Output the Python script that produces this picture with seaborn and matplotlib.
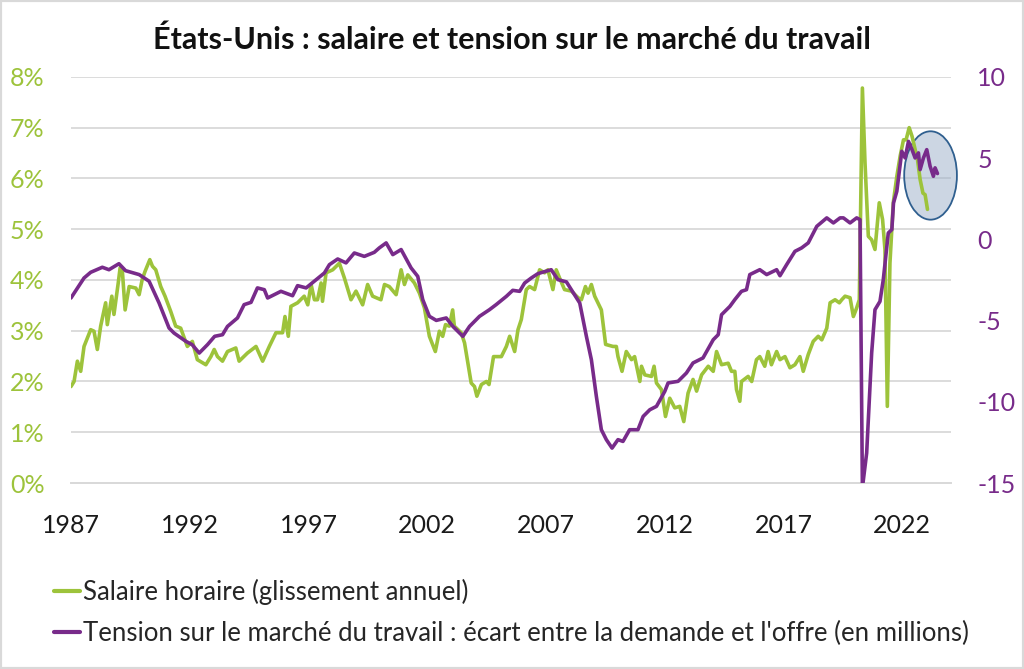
import matplotlib
matplotlib.use("Agg")
import matplotlib.pyplot as plt
from matplotlib.patches import Ellipse, Rectangle
from matplotlib.ticker import FuncFormatter
import seaborn as sns

# salaire horaire, glissement annuel (%)
wage_years = [
    1987.00, 1987.13, 1987.27, 1987.41, 1987.55, 1987.83, 1987.97, 1988.11, 1988.25, 1988.46,
    1988.53, 1988.72, 1988.81, 1988.99, 1989.07, 1989.16, 1989.28, 1989.45, 1989.73, 1989.87,
    1990.00, 1990.12, 1990.32, 1990.43, 1990.57, 1990.78, 1990.96, 1991.20, 1991.41, 1991.62,
    1991.90, 1992.11, 1992.32, 1992.68, 1992.89, 1993.03, 1993.17, 1993.38, 1993.59, 1993.94,
    1994.08, 1994.43, 1994.79, 1995.07, 1995.35, 1995.63, 1995.91, 1996.01, 1996.15, 1996.26,
    1996.54, 1996.82, 1996.97, 1997.11, 1997.25, 1997.38, 1997.53, 1997.59, 1997.74, 1998.02,
    1998.30, 1998.51, 1998.79, 1999.00, 1999.28, 1999.49, 1999.70, 2000.05, 2000.20, 2000.40,
    2000.69, 2000.90, 2001.04, 2001.18, 2001.46, 2001.67, 2001.88, 2002.09, 2002.34, 2002.51,
    2002.65, 2002.77, 2002.93, 2003.07, 2003.14, 2003.43, 2003.57, 2003.71, 2003.85, 2003.99,
    2004.09, 2004.28, 2004.49, 2004.60, 2004.79, 2005.12, 2005.33, 2005.47, 2005.68, 2005.82,
    2005.96, 2006.17, 2006.31, 2006.52, 2006.73, 2006.94, 2007.08, 2007.29, 2007.43, 2007.57,
    2007.78, 2008.07, 2008.35, 2008.49, 2008.66, 2008.77, 2008.91, 2009.05, 2009.33, 2009.51,
    2009.82, 2009.96, 2010.03, 2010.20, 2010.38, 2010.60, 2010.73, 2010.95, 2011.02, 2011.16,
    2011.44, 2011.55, 2011.65, 2011.86, 2012.03, 2012.21, 2012.42, 2012.63, 2012.80, 2012.98,
    2013.19, 2013.34, 2013.55, 2013.83, 2014.04, 2014.18, 2014.39, 2014.67, 2014.81, 2014.95,
    2015.02, 2015.16, 2015.23, 2015.51, 2015.66, 2015.86, 2016.00, 2016.21, 2016.35, 2016.49,
    2016.71, 2016.85, 2017.06, 2017.27, 2017.48, 2017.69, 2017.83, 2018.04, 2018.25, 2018.46,
    2018.61, 2018.82, 2018.96, 2019.17, 2019.35, 2019.45, 2019.59, 2019.80, 2019.94, 2020.08,
    2020.19, 2020.32, 2020.43, 2020.57, 2020.71, 2020.85, 2021.03, 2021.17, 2021.27, 2021.37,
    2021.48, 2021.62, 2021.77, 2021.91, 2022.05, 2022.16, 2022.29, 2022.41, 2022.54, 2022.64,
    2022.75, 2022.87, 2022.96, 2023.06,
]
wage_values = [
    1.90, 2.00, 2.40, 2.20, 2.69, 3.02, 2.99, 2.63, 3.09, 3.55,
    3.12, 3.68, 3.32, 3.94, 4.24, 4.20, 3.41, 3.87, 3.84, 3.71,
    4.01, 4.17, 4.40, 4.27, 4.20, 3.87, 3.68, 3.38, 3.09, 3.05,
    2.69, 2.79, 2.43, 2.33, 2.49, 2.63, 2.49, 2.40, 2.59, 2.66,
    2.40, 2.56, 2.69, 2.40, 2.69, 2.96, 2.96, 3.28, 2.89, 3.48,
    3.55, 3.68, 3.51, 3.91, 3.61, 3.61, 3.94, 3.58, 4.14, 4.20,
    4.33, 4.04, 3.61, 3.78, 3.51, 3.91, 3.68, 3.61, 3.91, 3.87,
    3.71, 4.20, 3.91, 4.10, 3.94, 3.74, 3.45, 2.89, 2.59, 2.99,
    2.89, 3.12, 3.09, 3.41, 3.09, 2.96, 2.76, 2.36, 1.97, 1.90,
    1.71, 1.94, 2.00, 1.94, 2.49, 2.49, 2.69, 2.89, 2.59, 3.02,
    3.22, 3.81, 3.87, 3.81, 4.20, 4.14, 4.20, 3.81, 4.20, 4.04,
    3.81, 3.78, 3.65, 3.61, 3.87, 3.74, 3.91, 3.68, 3.41, 2.73,
    2.69, 2.69, 2.49, 2.20, 2.59, 2.43, 2.49, 2.00, 2.30, 2.13,
    2.10, 2.30, 1.97, 1.84, 1.31, 1.67, 1.48, 1.51, 1.21, 1.77,
    2.04, 1.81, 2.13, 2.30, 2.20, 2.59, 2.33, 2.36, 2.20, 2.20,
    1.84, 1.61, 2.00, 2.10, 2.00, 2.43, 2.49, 2.30, 2.59, 2.33,
    2.59, 2.43, 2.49, 2.27, 2.33, 2.49, 2.20, 2.53, 2.79, 2.89,
    2.82, 3.05, 3.55, 3.61, 3.55, 3.61, 3.68, 3.65, 3.28, 3.45,
    3.61, 7.78, 6.31, 4.86, 4.79, 4.60, 5.52, 5.19, 4.60, 1.51,
    4.33, 5.52, 6.04, 6.44, 6.76, 6.76, 7.00, 6.83, 6.57, 6.37,
    5.98, 5.71, 5.68, 5.39,
]

# tension : ecart demande - offre de travail (millions)
tension_years = [
    1987.00, 1987.55, 1987.83, 1988.32, 1988.60, 1989.02, 1989.30, 1989.87, 1990.29, 1990.71,
    1991.13, 1991.34, 1991.84, 1992.10, 1992.40, 1992.75, 1993.05, 1993.38, 1993.59, 1994.01,
    1994.29, 1994.58, 1994.85, 1995.14, 1995.28, 1995.84, 1996.33, 1996.54, 1996.90, 1997.24,
    1997.67, 1997.88, 1998.23, 1998.58, 1998.93, 1999.35, 1999.77, 1999.98, 2000.27, 2000.55,
    2000.90, 2001.32, 2001.60, 2001.81, 2002.09, 2002.38, 2002.80, 2003.08, 2003.50, 2003.78,
    2004.20, 2004.62, 2004.90, 2005.33, 2005.60, 2005.89, 2006.10, 2006.38, 2006.66, 2007.22,
    2007.50, 2007.86, 2008.20, 2008.42, 2008.70, 2008.91, 2009.12, 2009.33, 2009.54, 2009.78,
    2010.03, 2010.24, 2010.52, 2010.87, 2011.09, 2011.37, 2011.65, 2012.00, 2012.14, 2012.56,
    2012.91, 2013.19, 2013.61, 2014.04, 2014.25, 2014.39, 2014.74, 2014.95, 2015.23, 2015.44,
    2015.58, 2016.00, 2016.29, 2016.71, 2016.85, 2017.13, 2017.48, 2017.76, 2018.04, 2018.40,
    2018.82, 2019.10, 2019.38, 2019.52, 2019.80, 2020.08, 2020.22, 2020.32, 2020.50, 2020.71,
    2020.85, 2021.06, 2021.20, 2021.41, 2021.56, 2021.63, 2021.77, 2021.98, 2022.12, 2022.26,
    2022.41, 2022.54, 2022.68, 2022.75, 2022.89, 2023.03, 2023.17, 2023.31, 2023.38, 2023.48,
]
tension_values = [
    -3.61, -2.38, -2.03, -1.72, -1.87, -1.50, -1.93, -2.17, -2.58, -3.92,
    -5.46, -5.77, -6.28, -6.48, -7.00, -6.48, -5.97, -5.87, -5.36, -4.84,
    -4.02, -3.88, -2.99, -3.10, -3.61, -3.20, -3.47, -2.85, -2.99, -2.58,
    -2.07, -1.56, -1.21, -1.45, -0.84, -1.05, -0.80, -0.53, -0.22, -0.94,
    -0.63, -1.76, -2.28, -3.71, -4.74, -4.99, -4.84, -5.36, -5.97, -5.36,
    -4.74, -4.33, -4.02, -3.51, -3.14, -3.20, -2.69, -2.38, -2.11, -1.87,
    -2.48, -2.62, -3.41, -3.92, -5.97, -7.41, -9.67, -11.72, -12.33, -12.85,
    -12.33, -12.44, -11.72, -11.72, -10.90, -10.49, -10.28, -9.36, -8.84, -8.74,
    -8.23, -7.61, -7.30, -6.18, -5.87, -4.64, -4.13, -3.71, -3.20, -3.10,
    -2.17, -1.87, -2.17, -1.87, -2.24, -1.56, -0.74, -0.53, -0.22, 0.80,
    1.32, 1.01, 1.32, 1.32, 1.01, 1.32, 1.21, -15.30, -13.15, -7.00,
    -4.33, -3.82, -2.48, 0.39, 0.60, 2.24, 2.96, 5.42, 5.01, 6.03,
    5.52, 5.01, 5.32, 4.29, 5.01, 5.52, 4.50, 3.88, 4.40, 4.05,
]

year_ticks = [1987, 1992, 1997, 2002, 2007, 2012, 2017, 2022]
title = "États-Unis : salaire et tension sur le marché du travail"
label_wage = "Salaire horaire (glissement annuel)"
label_tension = "Tension sur le marché du travail : écart entre la demande et l'offre (en millions)"

GREEN = "#9DC33B"
PURPLE = "#782B8A"
GRID = "#D9D9D9"

sns.set_style("white")
plt.rcParams["font.family"] = ["Lato", "DejaVu Sans"]
plt.rcParams["axes.unicode_minus"] = False

fig = plt.figure(figsize=(10.24, 6.69), dpi=100)
ax = fig.add_axes([0.0693, 0.278, 0.8594, 0.6071])
ax2 = ax.twinx()

sns.lineplot(x=wage_years, y=wage_values, ax=ax, color=GREEN, linewidth=2.6, zorder=3)
sns.lineplot(x=tension_years, y=tension_values, ax=ax2, color=PURPLE, linewidth=2.6, zorder=3)

# ellipse de mise en avant, sous les courbes
ell = Ellipse((2023.19, 3.93), width=2.22, height=5.44, transform=ax2.transData,
              facecolor=(155 / 255, 175 / 255, 201 / 255, 0.5),
              edgecolor="#2F5F8F", linewidth=1.3, clip_on=False, zorder=1.5)
ax.add_patch(ell)

ax.set_xlim(1987, 2024.05)
ax.set_ylim(0, 8)
ax2.set_ylim(-15, 10)
ax.set_xticks(year_ticks)
ax.set_yticks(range(0, 9))
ax2.set_yticks([-15, -10, -5, 0, 5, 10])
ax.yaxis.set_major_formatter(FuncFormatter(lambda v, p: f"{v:.0f}%"))

ax.grid(axis="y", color=GRID, linewidth=1.3)
ax.set_axisbelow(True)
for a in (ax, ax2):
    for s in ("left", "right", "top"):
        a.spines[s].set_visible(False)
    a.spines["bottom"].set_color(GRID)
    a.spines["bottom"].set_linewidth(1.3)

ax.tick_params(axis="x", direction="out", length=7, width=1.3, color=GRID,
               labelsize=18, labelcolor="#1a1a1a", pad=15)
ax.tick_params(axis="y", length=0, labelsize=18, labelcolor=GREEN, pad=19)
ax2.tick_params(axis="y", length=0, labelsize=18, labelcolor=PURPLE, pad=19)

fig.text(0.5, 0.94, title, ha="center", va="center", fontsize=22,
         fontweight="bold", color="#111111")

handles = [plt.Line2D([], [], color=GREEN, linewidth=3),
           plt.Line2D([], [], color=PURPLE, linewidth=3)]
fig.legend(handles, [label_wage, label_tension], loc="upper left",
           bbox_to_anchor=(0.043, 0.15), bbox_transform=fig.transFigure,
           frameon=False, fontsize=18.5, handlelength=1.0, handletextpad=0.12,
           labelspacing=0.6, borderaxespad=0)

fig.patches.append(Rectangle((0, 0), 1, 1, transform=fig.transFigure,
                             fill=False, edgecolor=GRID, linewidth=3))

fig.savefig("out.png", dpi=100)
